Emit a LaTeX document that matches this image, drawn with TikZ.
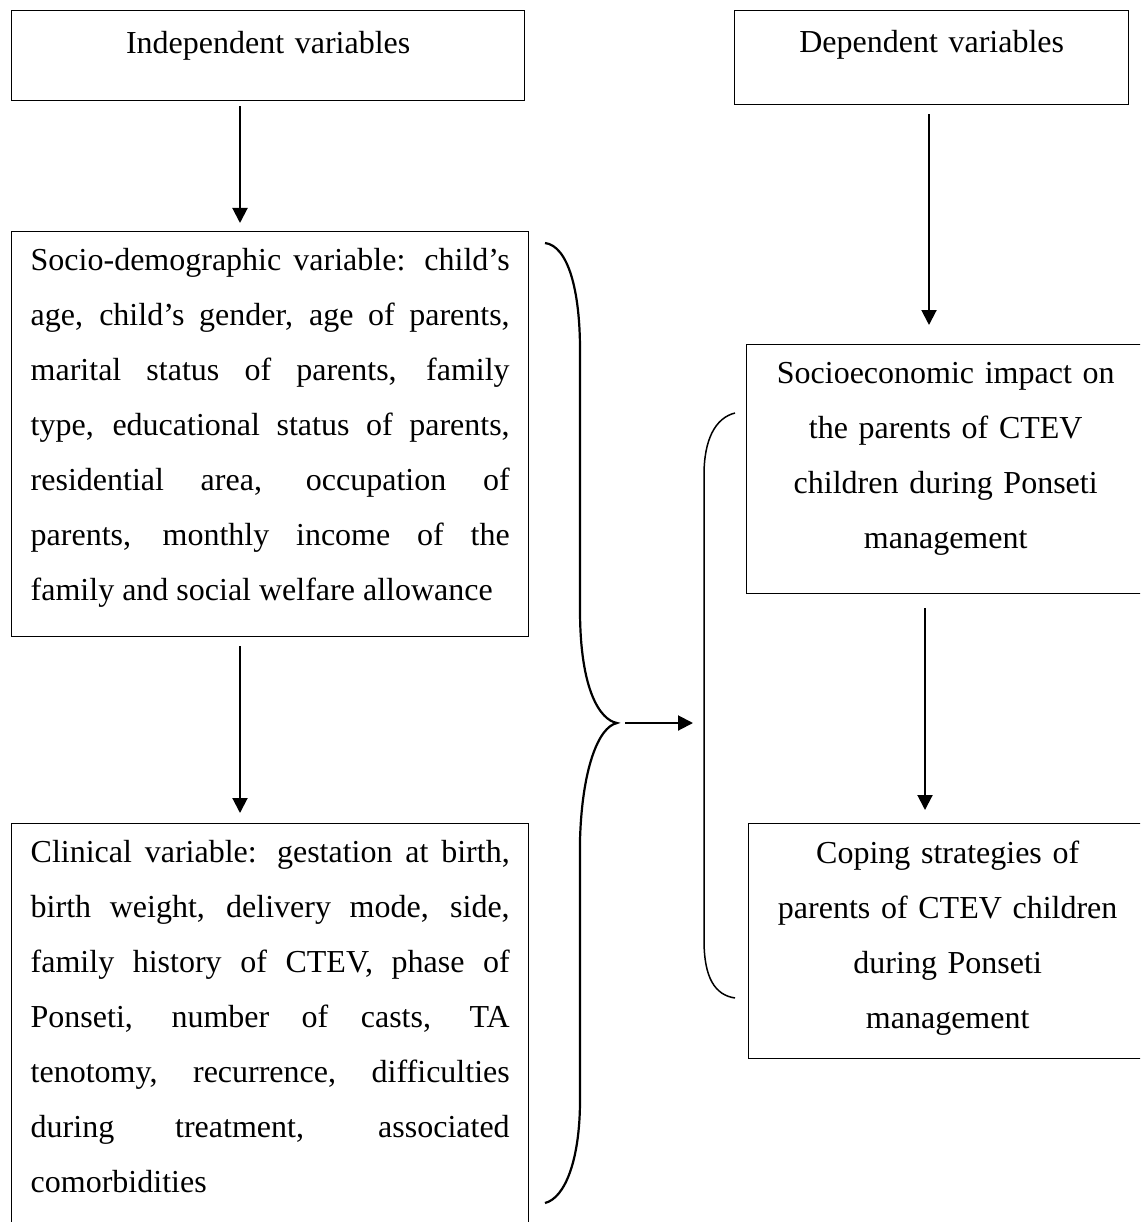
\documentclass[tikz,border=0pt]{standalone}
\usepackage{fontspec}
\setmainfont{Liberation Serif}
\usetikzlibrary{arrows.meta,positioning,calc}

\tikzset{
  varbox/.style={draw, line width=1.4pt, anchor=north west,
    inner xsep=19pt, inner ysep=0pt,
    font=\fontsize{32}{55}\selectfont},
  leftbox/.style={varbox, text width=479pt, align=justify},
  rightbox/.style={varbox, text width=360pt, align=center},
  flowarrow/.style={-{Triangle[length=15pt,width=15pt]}, line width=2pt},
}

\begin{document}
\begin{tikzpicture}[x=1pt,y=-1pt]

        % Page frame (y grows downwards)
        \useasboundingbox (0,0) rectangle (1140,1222);
        \clip (0,0) rectangle (1140,1222);

        % Header boxes
        \node[leftbox, text width=475pt, align=center,
              text height=43pt, text depth=47pt] (indep) at (11,10)
            {Independent variables};
        \node[rightbox, text width=356pt,
              text height=42pt, text depth=52pt] (dep) at (734,10)
            {Dependent variables};

        % Independent variables
        \node[leftbox, text height=39pt, text depth=366pt] (sociodemo) at (11,231)
            {Socio-demographic variable: child's\linebreak
             age, child's gender, age of parents,\linebreak
             marital status of parents, family\linebreak
             type, educational status of parents,\linebreak
             residential area, occupation of\linebreak
             parents, monthly income of the\linebreak
             family and social welfare allowance};
        \node[leftbox, text height=39pt, text depth=380pt] (clinical) at (11,823)
            {Clinical variable: gestation at birth,\linebreak
             birth weight, delivery mode, side,\linebreak
             family history of CTEV, phase of\linebreak
             Ponseti, number of casts, TA\linebreak
             tenotomy, recurrence, difficulties\linebreak
             during treatment, associated\linebreak
             comorbidities};

        % Dependent variables
        \node[rightbox, text height=39pt, text depth=210pt] (impact) at (746,344)
            {Socioeconomic impact on\\the parents of CTEV\\children during Ponseti\\management};
        \node[rightbox, text height=40pt, text depth=195pt] (coping) at (748,823)
            {Coping strategies of\\parents of CTEV children\\during Ponseti\\management};

        % Vertical arrows
        \coordinate (leftcol) at (240,0);
        \coordinate (rightcolA) at (929,0);
        \coordinate (rightcolB) at (925,0);
        \draw[flowarrow, shorten <=5pt, shorten >=8pt]
            (indep.south -| leftcol) -- (sociodemo.north -| leftcol);
        \draw[flowarrow, shorten <=9pt, shorten >=10pt]
            (sociodemo.south -| leftcol) -- (clinical.north -| leftcol);
        \draw[flowarrow, shorten <=9pt, shorten >=19pt]
            (dep.south -| rightcolA) -- (impact.north -| rightcolA);
        \draw[flowarrow, shorten <=14pt, shorten >=13pt]
            (impact.south -| rightcolB) -- (coping.north -| rightcolB);

        % Brace round the independent variables
        \draw[line width=2.2pt]
            (545,243) .. controls (568,246) and (580,290) .. (580,350)
            -- (580,610) .. controls (580,690) and (600,720) .. (617,723)
            coordinate (bracetip)
            .. controls (598,727) and (582,770) .. (580,840)
            -- (580,1100) .. controls (580,1160) and (565,1198) .. (545,1203);

        % Bracket round the dependent variables
        \draw[line width=1.5pt]
            (735,413) .. controls (715,418) and (704,440) .. (704,475)
            -- (704,940) .. controls (704,978) and (715,995) .. (735,998);
        \coordinate (bracketmid) at (704,723);

        % Link between the two groups
        \draw[flowarrow, shorten <=8pt, shorten >=11pt] (bracetip) -- (bracketmid);

    \end{tikzpicture}
\end{document}
